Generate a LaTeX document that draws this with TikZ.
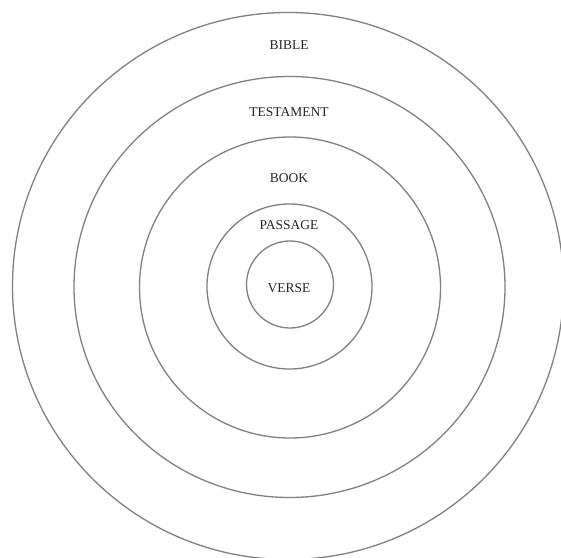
\documentclass[tikz,border=0pt]{standalone}
\usepackage{fontspec}
\setmainfont{Liberation Serif}
\begin{document}
\begin{tikzpicture}[x=1pt,y=-1pt,
  ring/.style={draw=black!50,line width=1.3pt},
  lbl/.style={font=\fontsize{13.5}{16}\selectfont,text=black!85,inner sep=0pt}]
\useasboundingbox[clip] (0,0) rectangle (561,557);
\coordinate (c1) at (288,286);
\coordinate (c2) at (289.5,287);
\coordinate (c3) at (290,287.5);
\coordinate (c4) at (289.5,286.5);
\coordinate (c5) at (290,284.5);
\draw[ring] (c1) ellipse[x radius=275.5,y radius=273.5];
\draw[ring] (c2) ellipse[x radius=215.5,y radius=210.5];
\draw[ring] (c3) circle[radius=150.5];
\draw[ring] (c4) circle[radius=82.5];
\draw[ring] (c5) circle[radius=43.5];
\node[lbl] (bible) at (289,45) {BIBLE};
\node[lbl] (testament) at (289,112) {TESTAMENT};
\node[lbl] (book) at (289,178) {BOOK};
\node[lbl] (passage) at (289,225) {PASSAGE};
\node[lbl] (verse) at (289,288) {VERSE};
\end{tikzpicture}
\end{document}
